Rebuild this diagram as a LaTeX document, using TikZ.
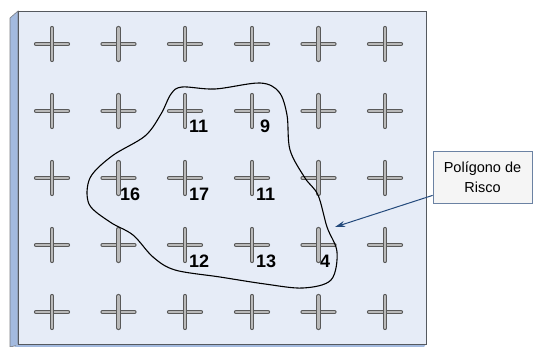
\documentclass[tikz,border=0pt]{standalone}
\usepackage{fontspec}
\setmainfont{Liberation Sans}
\usetikzlibrary{arrows.meta}
\definecolor{painel}{HTML}{E6ECF7}
\definecolor{lateral}{HTML}{A3BADF}
\definecolor{borda}{HTML}{55595F}
\definecolor{seta}{HTML}{244A7C}
\definecolor{caixa}{HTML}{6B82A3}

\begin{document}
\begin{tikzpicture}
  [x=1pt,y=-1pt,
   cruz/.style={draw=black!65, double=gray!55, double distance=2.2pt, line width=1pt, line cap=round},
   valor/.style={anchor=base west, inner sep=0pt, font=\fontsize{18}{18}\selectfont\bfseries},
   nota/.style={draw=caixa, fill=gray!8, line width=0.8pt, minimum width=99pt, minimum height=52pt, inner sep=1pt, align=center, font=\fontsize{14.5}{20}\selectfont}]
  \useasboundingbox (0,0) rectangle (534,347);

  % painel
  \filldraw[fill=lateral, draw=borda!80, line width=0.6pt] (10,18) -- (18,11) -- (18,345) -- (10,347) -- cycle;
  \fill[lateral] (18,344) -- (426,344) -- (424,347) -- (14,347) -- cycle;
  \filldraw[fill=painel, draw=borda, line width=0.8pt] (18,11) rectangle (426,344);

  \foreach \x in {52,118.5,185,252,318.5,385}
    \foreach \y in {44,111,178,245,312} {
      \draw[cruz] (\x-16,\y) -- (\x+16,\y);
      \draw[cruz] (\x,\y-16) -- (\x,\y+16);
    }

  % poligono
  \draw[line width=1.1pt] plot[smooth cycle, tension=0.55] coordinates {
    (182,87) (215,89) (260,83) (279,92) (287,115) (290,150) (305,178) (318,195)
    (327,227) (337,252) (331,280) (303,288) (265,284) (220,277) (175,270) (153,257)
    (133,235) (110,222) (89,204) (90,178) (112,156) (145,136) (161,114) (171,94)};

  \node[valor] (v1) at (189,133) {11};
  \node[valor] (v2) at (260,133) {9};
  \node[valor] (v3) at (120,200) {16};
  \node[valor] (v4) at (189,200) {17};
  \node[valor] (v5) at (256,200) {11};
  \node[valor] (v6) at (189,267) {12};
  \node[valor] (v7) at (256,267) {13};
  \node[valor] (v8) at (320,267) {4};

  \node[nota] (rotulo) at (482.5,177) {Polígono de\\Risco};
  \coordinate (ponta) at (335,227);
  \draw[seta, line width=1pt, -{Stealth[length=10pt,width=6pt]}] ([yshift=8pt]rotulo.south west) -- (ponta);
\end{tikzpicture}
\end{document}
